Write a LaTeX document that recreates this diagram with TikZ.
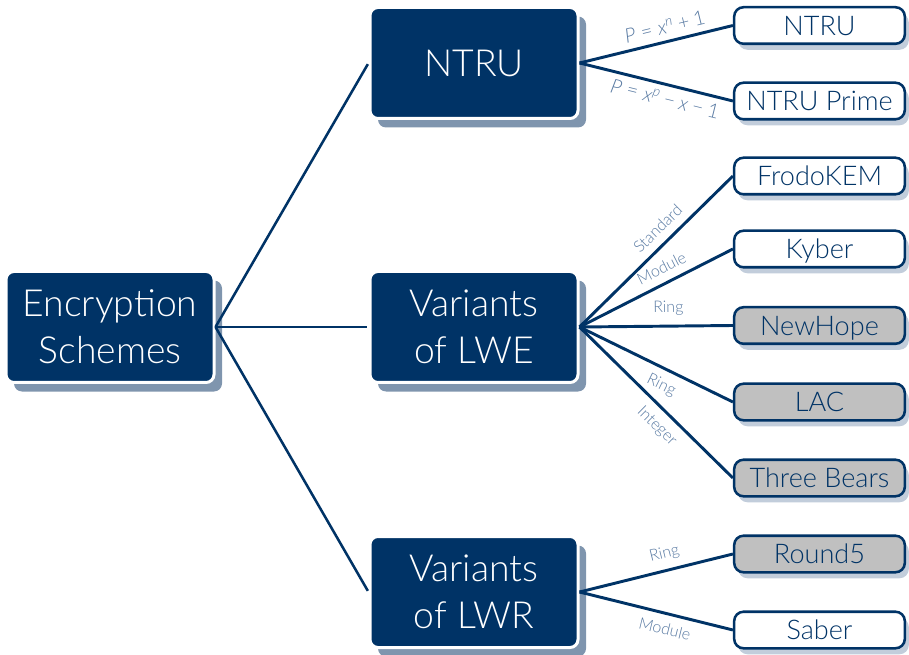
\documentclass[tikz,border=0pt]{standalone}
\usepackage{fontspec}
\setmainfont{Lato}[UprightFont={* Light},ItalicFont={* Light Italic}]
\usetikzlibrary{shadows}
\definecolor{navy}{HTML}{003366}
\definecolor{shadowA}{HTML}{7F95AE}
\definecolor{shadowB}{HTML}{C2CDDB}
\definecolor{lbl}{HTML}{5A7BA3}
\definecolor{leafgray}{HTML}{C0C0C0}
\newcommand{\rel}[1]{\hspace{0.28em}#1\hspace{0.28em}}
\newcommand{\bin}[1]{\hspace{0.22em}#1\hspace{0.22em}}
\begin{document}
\begin{tikzpicture}[x=0.75pt,y=-0.75pt,
 bigbox/.style={fill=navy, draw=white, line width=2.25pt, rounded corners=6pt,
   minimum width=156pt, minimum height=83.25pt, text=white, align=center, inner sep=0pt,
   font=\fontsize{28}{35}\selectfont,
   drop shadow={shadow xshift=6pt, shadow yshift=-6.75pt, fill=shadowA, opacity=1}},
 leaf/.style={fill=white, draw=navy, line width=1.9pt, rounded corners=7pt,
   minimum width=128pt, minimum height=27.4pt, text=navy, inner sep=0pt,
   text height=14.6pt, text depth=0pt, font=\fontsize{20.3}{24}\selectfont,
   drop shadow={shadow xshift=3pt, shadow yshift=-4.5pt, fill=shadowB, opacity=1}},
 grayleaf/.style={leaf, fill=leafgray},
 trunk/.style={draw=navy, line width=1.9pt, shorten >=1pt},
 branch/.style={draw=navy, line width=2.2pt},
 elabel/.style={sloped, text=lbl, font=\fontsize{12}{14}\selectfont, inner sep=2pt, pos=0.58},
 mlabel/.style={elabel, font=\fontsize{15}{18}\selectfont}
]
\useasboundingbox (0,0) rectangle (909,655);

\node[bigbox] (root) at (110,327) {Encryption\\Schemes};
\node[bigbox] (ntru) at (474,63) {NTRU};
\node[bigbox] (lwe) at (474,327) {Variants\\of LWE};
\node[bigbox] (lwr) at (474,592) {Variants\\of LWR};

\node[leaf] (l1) at (819.5,25.5) {NTRU};
\node[leaf] (l2) at (819.5,101) {NTRU Prime};
\node[leaf] (l3) at (819.5,176) {FrodoKEM};
\node[leaf] (l4) at (819.5,249) {Kyber};
\node[grayleaf] (l5) at (819.5,325.5) {NewHope};
\node[grayleaf] (l6) at (819.5,402) {LAC};
\node[grayleaf] (l7) at (819.5,478) {Three Bears};
\node[grayleaf] (l8) at (819.5,554) {Round5};
\node[leaf] (l9) at (819.5,630) {Saber};

\draw[trunk] (root.east) -- (ntru.west);
\draw[trunk] (root.east) -- (lwe.west);
\draw[trunk] (root.east) -- (lwr.west);

\draw[branch] (ntru.east) -- (l1.west) node[mlabel, above=3pt] {\textit{P}\rel{=}\textit{x}\textsuperscript{\textit{n}}\bin{+}1};
\draw[branch] (ntru.east) -- (l2.west) node[mlabel, below=2pt] {\textit{P}\rel{=}\textit{x}\textsuperscript{\textit{p}}\bin{−}\textit{x}\bin{−}1};

\draw[branch] (lwe.east) -- (l3.west) node[elabel, above=4pt] {Standard};
\draw[branch] (lwe.east) -- (l4.west) node[elabel, above=4pt] {Module};
\draw[branch] (lwe.east) -- (l5.west) node[elabel, above=5pt] {Ring};
\draw[branch] (lwe.east) -- (l6.west) node[elabel, below=4pt] {Ring};
\draw[branch] (lwe.east) -- (l7.west) node[elabel, below=4pt] {Integer};

\draw[branch] (lwr.east) -- (l8.west) node[elabel, above=4pt] {Ring};
\draw[branch] (lwr.east) -- (l9.west) node[elabel, below=4pt] {Module};
\end{tikzpicture}
\end{document}
